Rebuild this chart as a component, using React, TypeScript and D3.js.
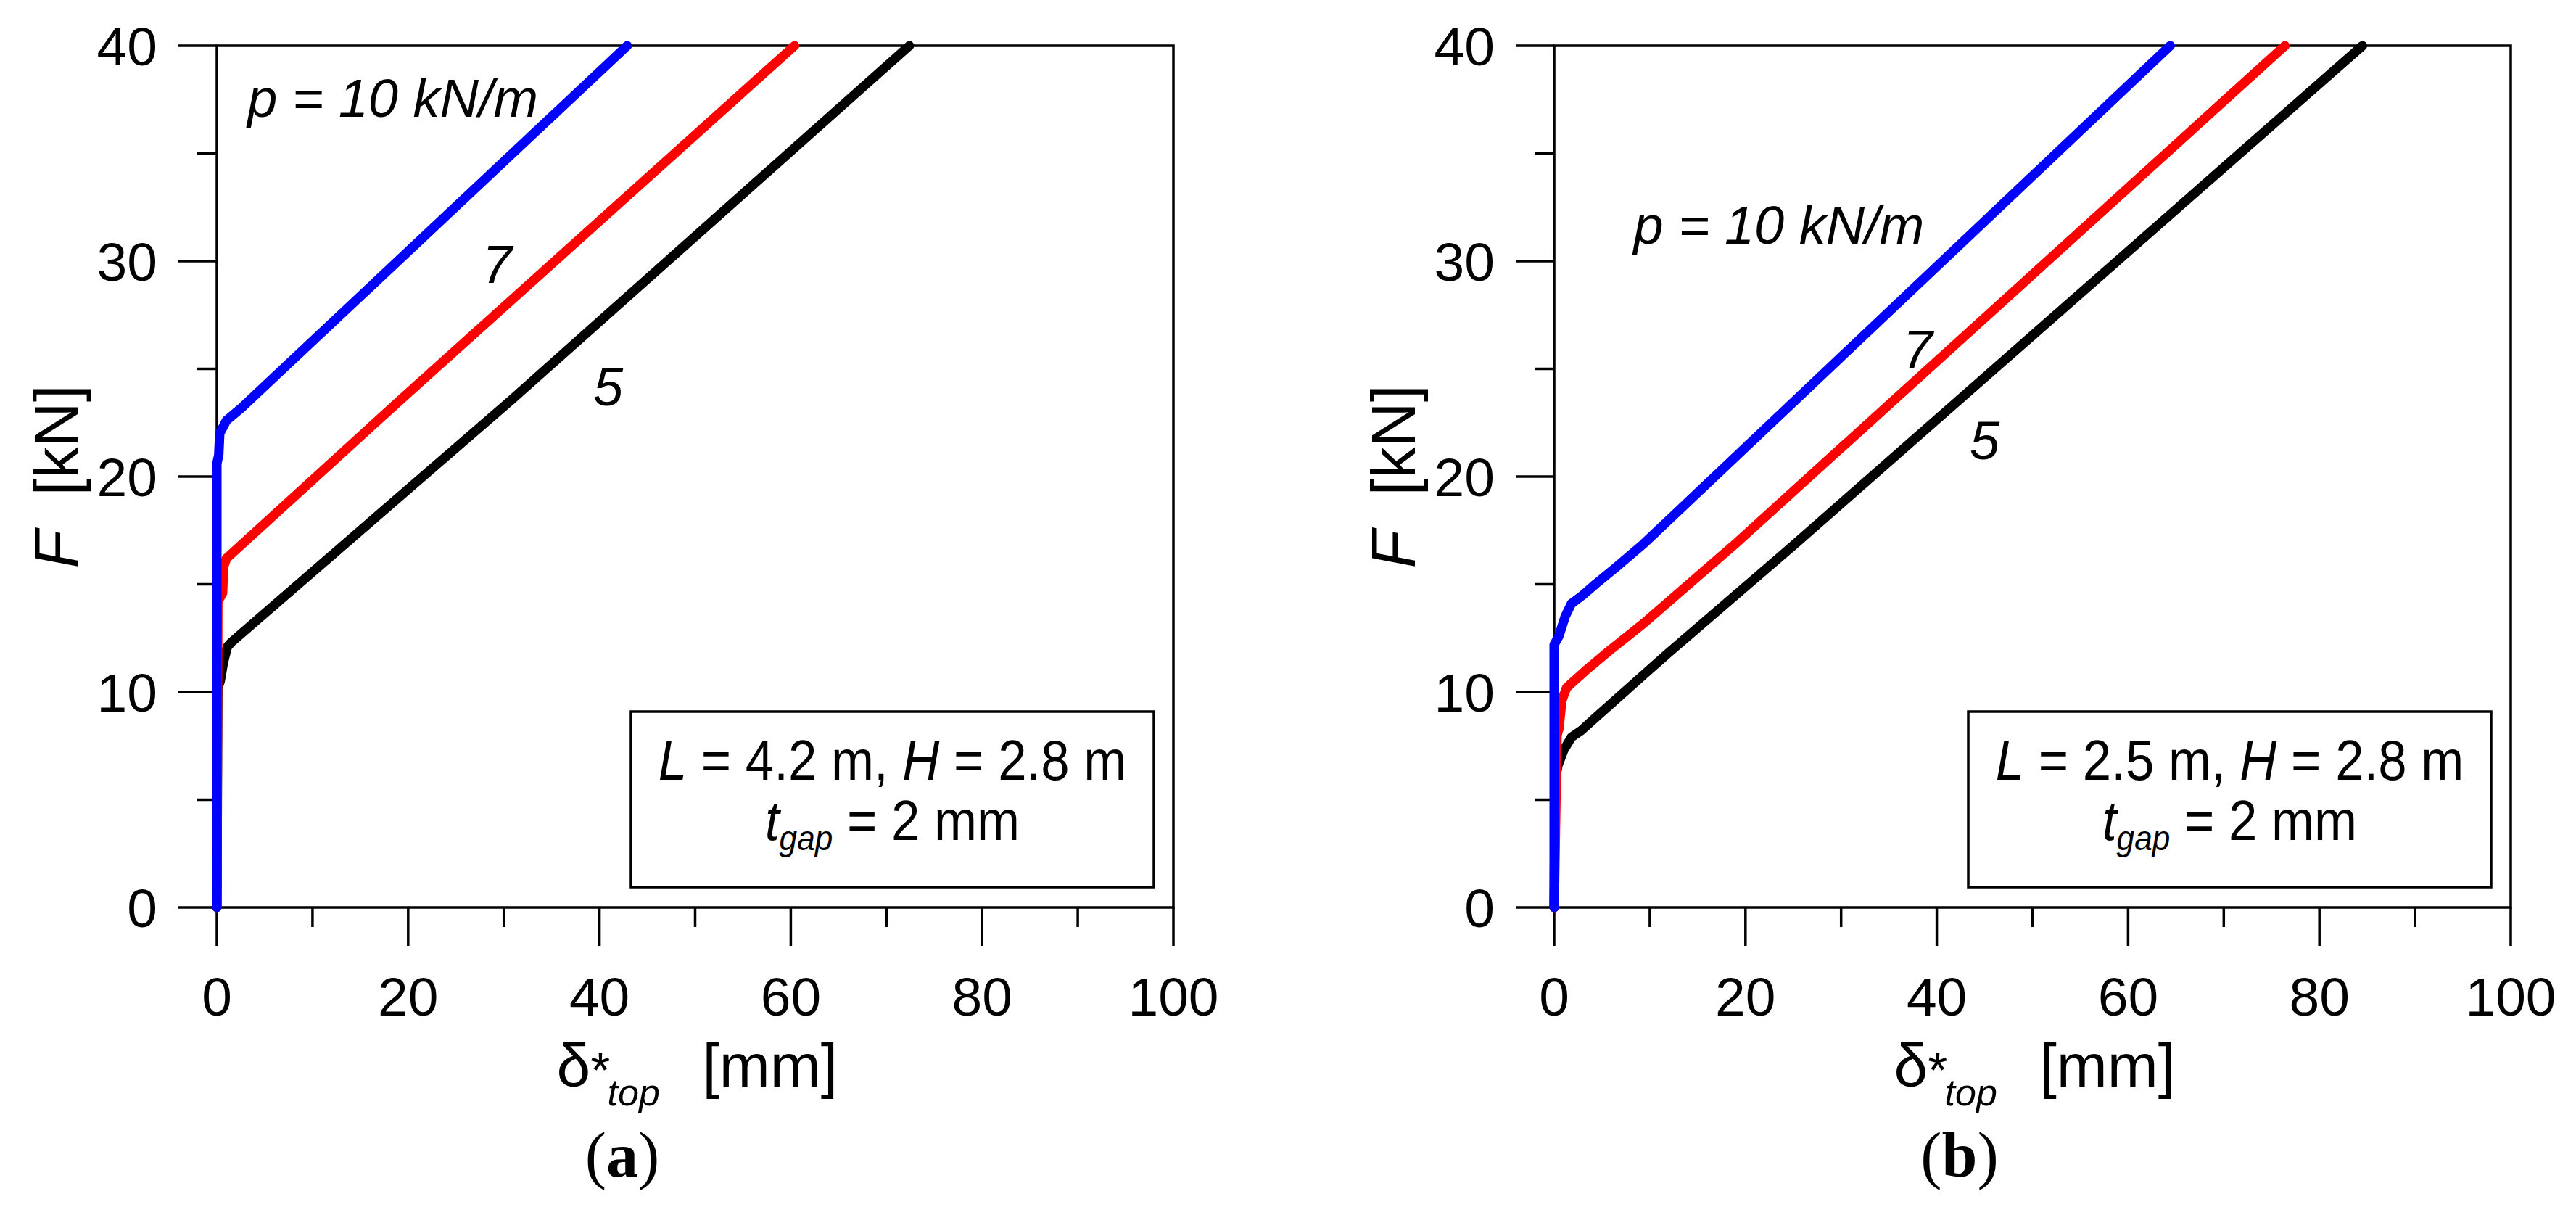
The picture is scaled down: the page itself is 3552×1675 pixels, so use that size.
import React from "react";
import * as d3 from "d3";

// panel (a): L = 4.2 m
const aDelta5 = [0, 0.1, 0.35, 0.7, 1.1, 1.5, 30.9, 72.4];
const aForce5 = [0, 10.2, 10.5, 11.4, 12.1, 12.3, 23.6, 40];
const aDelta7 = [0, 0.1, 0.6, 0.7, 1.0, 19.3, 60.4];
const aForce7 = [0, 14.2, 14.6, 15.8, 16.2, 23.6, 40];
const aDelta10 = [0, 0, 0.2, 0.3, 1.0, 2.6, 42.9];
const aForce10 = [0, 20.6, 21.0, 22.0, 22.6, 23.2, 40];

// panel (b): L = 2.5 m
const bDelta5 = [0, 0.1, 0.4, 1.0, 1.8, 2.8, 4.3, 11.9, 25.0, 84.5];
const bForce5 = [0, 5.9, 6.6, 7.3, 7.9, 8.2, 8.8, 11.8, 16.8, 40];
const bDelta7 = [0, 0.3, 0.5, 0.8, 1.3, 1.8, 3.3, 6.0, 9.4, 19.0, 76.4];
const bForce7 = [0, 8.0, 8.3, 9.6, 10.2, 10.4, 11.0, 12.0, 13.2, 16.9, 40];
const bDelta10 = [0, 0, 0.5, 1.15, 1.8, 3.0, 4.3, 6.5, 9.4, 64.4];
const bForce10 = [0, 12.2, 12.6, 13.5, 14.1, 14.5, 15.0, 15.8, 16.9, 40];

const xMajor = [0, 20, 40, 60, 80, 100];
const xMinor = [10, 30, 50, 70, 90];
const yMajor = [0, 10, 20, 30, 40];
const yMinor = [5, 15, 25, 35];

// curve labels: [text, delta, force]
const aLabels: [string, number, number][] = [
  ["p = 10 kN/m", 3.2, 36.7],
  ["7", 29.3, 29.0],
  ["5", 40.9, 23.3],
];
const bLabels: [string, number, number][] = [
  ["p = 10 kN/m", 8.3, 30.8],
  ["7", 38.0, 25.05],
  ["5", 45.0, 20.8],
];

const seriesColors = ["#000000", "#ff0000", "#0000ff"];

const SANS = "'Liberation Sans', Arial, sans-serif";
const SERIF = "'Liberation Serif', 'Times New Roman', serif";

interface PanelProps {
  ox: number;
  curves: { delta: number[]; force: number[] }[];
  labels: [string, number, number][];
  lengthText: string;
  tag: string;
}

const plotW = 1319;
const top = 63;
const bottom = 1251;

const Panel: React.FC<PanelProps> = ({ ox, curves, labels, lengthText, tag }) => {
  const x = d3.scaleLinear().domain([0, 100]).range([ox, ox + plotW]);
  const y = d3.scaleLinear().domain([0, 40]).range([bottom, top]);
  const line = d3
    .line<[number, number]>()
    .x((d) => x(d[0]))
    .y((d) => y(d[1]));

  const cx = ox + plotW / 2;
  const boxL = ox + 571;
  const boxR = ox + 1292;
  const boxCx = (boxL + boxR) / 2;

  return (
    <g>
      {/* frame */}
      <rect x={ox} y={top} width={plotW} height={bottom - top} fill="none" stroke="#000" strokeWidth={3.5} />

      {/* x ticks */}
      {xMajor.map((t) => (
        <g key={"xm" + t}>
          <line x1={x(t)} x2={x(t)} y1={bottom} y2={bottom + 53} stroke="#000" strokeWidth={3.5} />
          <text x={x(t)} y={1400} textAnchor="middle" fontSize={75} fontFamily={SANS}>
            {t}
          </text>
        </g>
      ))}
      {xMinor.map((t) => (
        <line key={"xn" + t} x1={x(t)} x2={x(t)} y1={bottom} y2={bottom + 27} stroke="#000" strokeWidth={3.5} />
      ))}

      {/* y ticks */}
      {yMajor.map((t) => (
        <g key={"ym" + t}>
          <line x1={ox - 53} x2={ox} y1={y(t)} y2={y(t)} stroke="#000" strokeWidth={3.5} />
          <text x={ox - 82} y={y(t) + 27} textAnchor="end" fontSize={75} fontFamily={SANS}>
            {t}
          </text>
        </g>
      ))}
      {yMinor.map((t) => (
        <line key={"yn" + t} x1={ox - 27} x2={ox} y1={y(t)} y2={y(t)} stroke="#000" strokeWidth={3.5} />
      ))}

      {/* curves, 5 first so 10 lies on top */}
      {curves.map((c, i) => (
        <path
          key={i}
          d={line(c.delta.map((v, k) => [v, c.force[k]] as [number, number])) ?? ""}
          fill="none"
          stroke={seriesColors[i]}
          strokeWidth={13}
          strokeLinecap="round"
          strokeLinejoin="round"
        />
      ))}

      {/* axis titles */}
      <text
        transform={`translate(${ox - 192},${(top + bottom) / 2}) rotate(-90)`}
        textAnchor="middle"
        fontSize={86}
        fontFamily={SANS}
        style={{ whiteSpace: "pre" }}
      >
        <tspan fontStyle="italic">F</tspan>
        {"  [kN]"}
      </text>
      <text x={cx - 191} y={1498} fontSize={84} fontFamily={SANS} style={{ whiteSpace: "pre" }}>
        δ
        <tspan fontSize={70} dy={2}>
          *
        </tspan>
        <tspan fontSize={52} fontStyle="italic" dx={-4} dy={24}>
          top
        </tspan>
        <tspan fontSize={84} dx={12} dy={-26}>
          {"  [mm]"}
        </tspan>
      </text>

      {/* curve labels */}
      {labels.map(([s, dx, fy], i) => (
        <text
          key={"lab" + i}
          x={x(dx)}
          y={y(fy)}
          textAnchor={i === 0 ? "start" : "middle"}
          fontSize={74}
          fontStyle="italic"
          fontFamily={SANS}
        >
          {s}
        </text>
      ))}

      {/* info box */}
      <rect x={boxL} y={981} width={boxR - boxL} height={242} fill="#fff" stroke="#000" strokeWidth={3.5} />
      <g transform={`translate(${boxCx},1075) scale(0.92,1)`}>
        <text textAnchor="middle" fontSize={77} fontFamily={SANS} style={{ whiteSpace: "pre" }}>
          <tspan fontStyle="italic">L</tspan>
          {` = ${lengthText} m, `}
          <tspan fontStyle="italic">H</tspan>
          {" = 2.8 m"}
        </text>
      </g>
      <g transform={`translate(${boxCx},1158) scale(0.92,1)`}>
        <text textAnchor="middle" fontSize={77} fontFamily={SANS} style={{ whiteSpace: "pre" }}>
          <tspan fontStyle="italic">t</tspan>
          <tspan fontStyle="italic" fontSize={48} dy={14}>
            gap
          </tspan>
          <tspan dy={-14}>{" = 2 mm"}</tspan>
        </text>
      </g>

      {/* panel tag */}
      <text x={ox + 559} y={1622} textAnchor="middle" fontSize={88} fontFamily={SERIF}>
        (<tspan fontWeight="bold">{tag}</tspan>)
      </text>
    </g>
  );
};

export default function App() {
  const curvesA = [
    { delta: aDelta5, force: aForce5 },
    { delta: aDelta7, force: aForce7 },
    { delta: aDelta10, force: aForce10 },
  ];
  const curvesB = [
    { delta: bDelta5, force: bForce5 },
    { delta: bDelta7, force: bForce7 },
    { delta: bDelta10, force: bForce10 },
  ];
  return (
    <svg
      width={3552}
      height={1675}
      style={{ position: "absolute", left: 0, top: 0, background: "#fff" }}
    >
      <rect width={3552} height={1675} fill="#fff" />
      <Panel ox={299} curves={curvesA} labels={aLabels} lengthText="4.2" tag="a" />
      <Panel ox={2143} curves={curvesB} labels={bLabels} lengthText="2.5" tag="b" />
    </svg>
  );
}
